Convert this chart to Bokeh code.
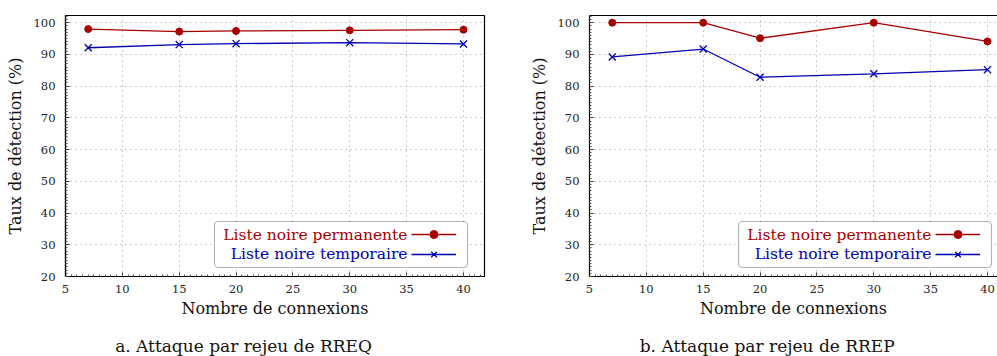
import numpy as np
from bokeh.plotting import figure
from bokeh.layouts import row, column
from bokeh.models import (ColumnDataSource, FixedTicker, Label, BoxAnnotation,
                          Legend, LegendItem, LinearAxis, Range1d)
from bokeh.embed import file_html
from bokeh.resources import INLINE

# ---- data ----
connexions = [7, 15, 20, 30, 40]
rreq_permanente = [98.0, 97.2, 97.4, 97.6, 97.8]
rreq_temporaire = [92.1, 93.1, 93.4, 93.7, 93.3]
rrep_permanente = [100.0, 100.0, 95.1, 100.0, 94.1]
rrep_temporaire = [89.2, 91.7, 82.8, 83.9, 85.2]
x_ticks = [5, 10, 15, 20, 25, 30, 35, 40]
y_ticks = [20, 30, 40, 50, 60, 70, 80, 90, 100]
series_names = ["Liste noire permanente", "Liste noire temporaire"]
captions = ["a. Attaque par rejeu de RREQ", "b. Attaque par rejeu de RREP"]
x_label = "Nombre de connexions"
y_label = "Taux de détection (%)"

RED = "#a80000"
BLUE = "#0000b0"
SERIF = "DejaVu Serif"


def make_panel(perm, temp, width, b_left, b_right, x_end, full_outline):
    p = figure(width=width, height=326, output_backend="svg", toolbar_location=None,
               x_range=Range1d(5, x_end), y_range=Range1d(20, 102.27),
               min_border_left=b_left, min_border_right=b_right,
               min_border_top=15, min_border_bottom=50)
    p.background_fill_color = "white"
    p.border_fill_color = "white"
    p.outline_line_color = "black" if full_outline else None
    p.outline_line_width = 1.2

    src = ColumnDataSource(dict(x=connexions, perm=perm, temp=temp))
    l1 = p.line("x", "perm", source=src, line_color=RED, line_width=1.3)
    s1 = p.scatter("x", "perm", source=src, marker="circle", size=7,
                   fill_color=RED, line_color=RED)
    l2 = p.line("x", "temp", source=src, line_color=BLUE, line_width=1.3)
    s2 = p.scatter("x", "temp", source=src, marker="x", size=10,
                   line_color=BLUE, line_width=1.3)

    p.xaxis.ticker = FixedTicker(ticks=x_ticks, minor_ticks=list(np.arange(5, 42, 0.5)))
    p.yaxis.ticker = FixedTicker(ticks=y_ticks, minor_ticks=list(np.arange(20, 103, 1.0)))
    for ax in (p.xaxis[0], p.yaxis[0]):
        ax.axis_line_color = "black"
        ax.axis_line_width = 1.2
        ax.major_tick_in = 4
        ax.major_tick_out = 0
        ax.minor_tick_in = 2
        ax.minor_tick_out = 0
        ax.major_tick_line_color = "#333333"
        ax.minor_tick_line_color = "#555555"
        ax.major_label_text_font = SERIF
        ax.major_label_text_font_size = "11.5px"
        ax.major_label_text_color = "#222222"
        ax.axis_label_text_font = SERIF
        ax.axis_label_text_font_size = "16px"
        ax.axis_label_text_font_style = "normal"
        ax.axis_label_text_color = "#111111"
    p.xaxis.axis_label = x_label
    p.yaxis.axis_label = y_label
    p.xaxis.major_label_standoff = 8
    p.xaxis.axis_label_standoff = 3
    p.yaxis.major_label_standoff = 10
    p.yaxis.axis_label_standoff = 6

    if not full_outline:
        top = LinearAxis(ticker=FixedTicker(ticks=[]), major_label_text_font_size="0px",
                         axis_line_color="black", axis_line_width=1.2)
        p.add_layout(top, "above")

    for g in (p.xgrid[0], p.ygrid[0]):
        g.grid_line_color = "#9a9a9a"
        g.grid_line_dash = "1 4"
        g.grid_line_width = 1

    # legend box (text on the left, sample on the right)
    box = BoxAnnotation(left=149, right=402, bottom=9, top=55,
                        left_units="screen", right_units="screen",
                        bottom_units="screen", top_units="screen",
                        fill_color="white", fill_alpha=1.0,
                        line_color="black", line_width=1.1, border_radius=4)
    p.add_layout(box)
    for name, col, yy in ((series_names[0], RED, 42), (series_names[1], BLUE, 22.5)):
        p.add_layout(Label(x=342, y=yy, x_units="screen", y_units="screen", text=name,
                           text_align="right", text_baseline="middle",
                           text_font=SERIF, text_font_size="15.5px", text_color=col))
    leg = Legend(items=[LegendItem(label=" ", renderers=[l1, s1]),
                        LegendItem(label=" ", renderers=[l2, s2])],
                 location=(346, 12), margin=0, padding=0, spacing=0,
                 glyph_width=45, glyph_height=20, label_width=0, label_height=20,
                 label_standoff=0, label_text_font_size="1px",
                 border_line_color=None, background_fill_alpha=0)
    p.add_layout(leg)
    return p


def make_caption(text, width, cx):
    c = figure(width=width, height=30, output_backend="svg", toolbar_location=None,
               x_range=Range1d(0, 1), y_range=Range1d(0, 1),
               x_axis_type=None, y_axis_type=None,
               min_border_left=0, min_border_right=0, min_border_top=0, min_border_bottom=0)
    c.outline_line_color = None
    c.grid.visible = False
    c.add_layout(Label(x=cx, y=11, x_units="screen", y_units="screen", text=text,
                       text_align="center", text_baseline="middle",
                       text_font=SERIF, text_font_size="17px", text_color="#111111"))
    return c


p1 = make_panel(rreq_permanente, rreq_temporaire, 508, 65, 24, 41.85, True)
p2 = make_panel(rrep_permanente, rrep_temporaire, 489, 81, 0, 40.88, False)
c1 = make_caption(captions[0], 508, 243)
c2 = make_caption(captions[1], 489, 766.7 - 508)
layout = column(row(p1, p2, spacing=0), row(c1, c2, spacing=0), spacing=0)

with open("out.html", "w") as f:
    f.write(file_html(layout, INLINE))
